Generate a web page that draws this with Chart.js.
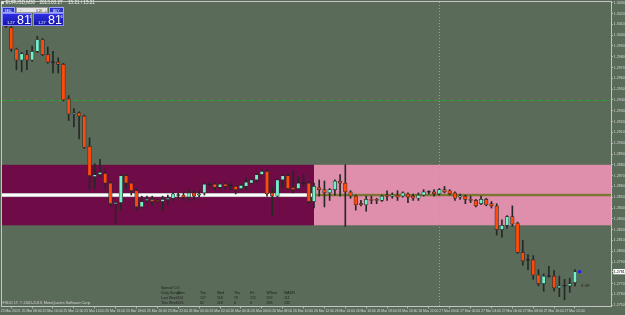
<!DOCTYPE html>
<html>
<head>
<meta charset="utf-8">
<script src="https://cdn.jsdelivr.net/npm/chart.js@4.4.1/dist/chart.umd.min.js"></script>
<style>
  html, body { margin: 0; padding: 0; background: #5a6b59; }
  #wrap { position: relative; width: 625px; height: 315px; overflow: hidden; font-family: "Liberation Sans", Arial, sans-serif; }
  #wrap canvas { position: absolute; left: 0; top: 0; }
  .t { position: absolute; white-space: nowrap; line-height: 1; }
  .hdr { color: #f2f2f2; font-size: 4.6px; top: 1.2px; }
  .btn { position: absolute; top: 7px; height: 6px; background: #2b36c9; color: #fff; font-size: 3.2px; line-height: 6px; text-align: center; box-sizing: border-box; border: 0.5px solid #9aa4ff; }
  .lot { position: absolute; top: 7px; left: 16px; width: 32px; height: 6px; background: #e4e4e4; color: #333; font-size: 3.2px; line-height: 6px; box-sizing: border-box; border: 0.5px solid #9a9a9a; }
  .quote { position: absolute; top: 13px; height: 12.5px; background: linear-gradient(#2e2fe0, #1414a8); box-sizing: border-box; border: 0.5px solid #8c8cff; color: #fff; }
  .quote .sm { position: absolute; left: 4px; top: 7px; font-size: 4px; line-height: 1; }
  .quote .big { position: absolute; left: 14px; top: 0px; font-size: 12.5px; line-height: 1; font-family: "Liberation Sans Narrow", "Arial Narrow", "Liberation Sans", sans-serif; }
  .quote .sup { position: absolute; left: 26.5px; top: 1px; font-size: 4px; line-height: 1; }
  .info { color: #1d1d1d; font-size: 3.6px; }
  .copy { color: #d6d6d6; font-size: 3.8px; }
</style>
</head>
<body>
<div id="wrap">
  <canvas id="chart" width="625" height="315"></canvas>

  <div class="t hdr" style="left:1.5px;">&#9632; EURUSD,M30</div>
  <div class="t hdr" style="left:39.5px;">2013.03.27</div>
  <div class="t hdr" style="left:68px;">15:21 / 15:21</div>

  <div class="btn" style="left:2px;width:13px;">SELL</div>
  <div class="lot"><span style="position:absolute;left:3px;">&minus;</span><span style="position:absolute;left:19px;">0.20</span><span style="position:absolute;left:28px;">+</span></div>
  <div class="btn" style="left:49px;width:14.5px;">BUY</div>
  <div class="quote" style="left:2px;width:29.5px;"><span class="sm">1.27</span><span class="big">81</span><span class="sup">1</span></div>
  <div class="quote" style="left:33px;width:30.5px;"><span class="sm">1.27</span><span class="big">81</span><span class="sup">6</span></div>

  <div class="t info" style="left:161px;top:286.5px;">Spread: 0.5</div>
  <div id="rangeTable"></div>

  <div class="t copy" style="left:2.5px;top:301.5px;">FXDD LT. &copy; 2001-2013, MetaQuotes Software Corp.</div>
  <div class="t" style="left:581px;top:283.5px;font-size:4.4px;color:#2a2a2a;">8:39</div>
</div>

<script>
// ---- candles (EURUSD M30), oldest first ----
const candleOpen = [
  1.3009, 1.3007, 1.2987, 1.2977, 1.2982, 1.2977, 1.2985, 1.2996, 1.2982, 1.2975,
  1.2975, 1.2973, 1.2941, 1.2927, 1.2928, 1.2925, 1.2897, 1.2869, 1.2871, 1.2872,
  1.2863, 1.2844, 1.2845, 1.2870, 1.2863, 1.2856, 1.2841, 1.2847, 1.2848, 1.2847,
  1.2846, 1.2848, 1.2849, 1.2852, 1.2852, 1.2850, 1.2854, 1.2852, 1.2854, 1.2862,
  1.2862, 1.2859, 1.2862, 1.2861, 1.2860, 1.2858, 1.2860, 1.2863, 1.2866, 1.2871,
  1.2874, 1.2854, 1.2851, 1.2866, 1.2870, 1.2859, 1.2858, 1.2863, 1.2863, 1.2846,
  1.2859, 1.2857, 1.2854, 1.2857, 1.2865, 1.2863, 1.2855, 1.2851, 1.2844, 1.2843,
  1.2848, 1.2848, 1.2847, 1.2852, 1.2851, 1.2852, 1.2851, 1.2853, 1.2851, 1.2849,
  1.2852, 1.2855, 1.2855, 1.2853, 1.2857, 1.2856, 1.2854, 1.2850, 1.2851, 1.2848,
  1.2847, 1.2844, 1.2848, 1.2844, 1.2842, 1.2820, 1.2824, 1.2832, 1.2826, 1.2799,
  1.2792, 1.2792, 1.2778, 1.2770, 1.2777, 1.2777, 1.2766, 1.2768, 1.2768, 1.2771
]
const candleHigh = [
  1.3010, 1.3008, 1.2988, 1.2984, 1.2986, 1.2990, 1.2999, 1.2997, 1.2989, 1.2985,
  1.2979, 1.2974, 1.2944, 1.2932, 1.2929, 1.2926, 1.2905, 1.2881, 1.2885, 1.2876,
  1.2864, 1.2846, 1.2871, 1.2871, 1.2864, 1.2858, 1.2851, 1.2851, 1.2851, 1.2848,
  1.2851, 1.2852, 1.2855, 1.2854, 1.2854, 1.2857, 1.2856, 1.2856, 1.2863, 1.2864,
  1.2864, 1.2863, 1.2864, 1.2863, 1.2861, 1.2862, 1.2868, 1.2867, 1.2872, 1.2875,
  1.2875, 1.2860, 1.2867, 1.2871, 1.2871, 1.2874, 1.2869, 1.2871, 1.2864, 1.2863,
  1.2866, 1.2865, 1.2858, 1.2866, 1.2871, 1.2880, 1.2856, 1.2852, 1.2847, 1.2851,
  1.2851, 1.2849, 1.2852, 1.2856, 1.2854, 1.2856, 1.2855, 1.2854, 1.2853, 1.2854,
  1.2857, 1.2856, 1.2857, 1.2858, 1.2860, 1.2857, 1.2855, 1.2853, 1.2852, 1.2851,
  1.2848, 1.2851, 1.2849, 1.2846, 1.2844, 1.2829, 1.2833, 1.2842, 1.2827, 1.2810,
  1.2797, 1.2796, 1.2783, 1.2779, 1.2786, 1.2782, 1.2777, 1.2774, 1.2775, 1.2783
]
const candleLow = [
  1.3007, 1.2985, 1.2968, 1.2966, 1.2968, 1.2976, 1.2984, 1.2981, 1.2974, 1.2965,
  1.2965, 1.2939, 1.2921, 1.2915, 1.2904, 1.2895, 1.2857, 1.2858, 1.2869, 1.2858,
  1.2842, 1.2826, 1.2838, 1.2858, 1.2852, 1.2838, 1.2840, 1.2845, 1.2843, 1.2845,
  1.2838, 1.2843, 1.2847, 1.2849, 1.2847, 1.2847, 1.2847, 1.2850, 1.2852, 1.2859,
  1.2857, 1.2858, 1.2858, 1.2857, 1.2853, 1.2857, 1.2857, 1.2862, 1.2864, 1.2869,
  1.2851, 1.2833, 1.2850, 1.2859, 1.2857, 1.2854, 1.2857, 1.2860, 1.2844, 1.2840,
  1.2851, 1.2841, 1.2847, 1.2852, 1.2851, 1.2823, 1.2849, 1.2838, 1.2842, 1.2837,
  1.2844, 1.2844, 1.2846, 1.2847, 1.2849, 1.2847, 1.2850, 1.2845, 1.2847, 1.2847,
  1.2851, 1.2853, 1.2851, 1.2852, 1.2854, 1.2852, 1.2847, 1.2848, 1.2844, 1.2845,
  1.2841, 1.2843, 1.2842, 1.2840, 1.2815, 1.2813, 1.2821, 1.2823, 1.2798, 1.2787,
  1.2783, 1.2774, 1.2768, 1.2763, 1.2776, 1.2763, 1.2758, 1.2755, 1.2762, 1.2768
]
const candleClose = [
  1.3008, 1.2987, 1.2977, 1.2983, 1.2977, 1.2985, 1.2996, 1.2982, 1.2975, 1.2975,
  1.2973, 1.2940, 1.2927, 1.2928, 1.2925, 1.2896, 1.2870, 1.2871, 1.2873, 1.2863,
  1.2844, 1.2845, 1.2870, 1.2863, 1.2856, 1.2841, 1.2846, 1.2848, 1.2846, 1.2846,
  1.2848, 1.2849, 1.2853, 1.2852, 1.2850, 1.2854, 1.2851, 1.2853, 1.2862, 1.2862,
  1.2859, 1.2862, 1.2860, 1.2861, 1.2857, 1.2861, 1.2864, 1.2866, 1.2871, 1.2874,
  1.2853, 1.2851, 1.2866, 1.2870, 1.2858, 1.2857, 1.2863, 1.2863, 1.2846, 1.2860,
  1.2857, 1.2854, 1.2857, 1.2865, 1.2863, 1.2855, 1.2851, 1.2843, 1.2843, 1.2848,
  1.2847, 1.2847, 1.2851, 1.2851, 1.2852, 1.2850, 1.2854, 1.2850, 1.2849, 1.2852,
  1.2855, 1.2855, 1.2853, 1.2857, 1.2855, 1.2853, 1.2849, 1.2851, 1.2848, 1.2847,
  1.2842, 1.2848, 1.2843, 1.2842, 1.2820, 1.2824, 1.2832, 1.2825, 1.2799, 1.2791,
  1.2792, 1.2778, 1.2770, 1.2777, 1.2777, 1.2766, 1.2768, 1.2768, 1.2770, 1.2781
]

// time axis labels, one every 4 bars (2 hours)
const timeLabels = [
  '25 Mar 2013', '25 Mar 08:00', '25 Mar 10:00', '25 Mar 12:00', '25 Mar 14:00', '25 Mar 16:00', '25 Mar 18:00',
  '25 Mar 20:00', '25 Mar 22:00', '26 Mar 00:00', '26 Mar 02:00', '26 Mar 04:00', '26 Mar 06:00', '26 Mar 08:00',
  '26 Mar 10:00', '26 Mar 12:00', '26 Mar 14:00', '26 Mar 16:00', '26 Mar 18:00', '26 Mar 20:00', '26 Mar 22:00',
  '27 Mar 00:00', '27 Mar 02:00', '27 Mar 04:00', '27 Mar 06:00', '27 Mar 08:00', '27 Mar 10:00', '27 Mar 12:00'
]

// price axis labels
const priceTicks = [
  1.3030, 1.3020, 1.3010, 1.3000, 1.2990, 1.2980, 1.2970, 1.2960, 1.2950, 1.2940,
  1.2930, 1.2920, 1.2910, 1.2900, 1.2890, 1.2880, 1.2870, 1.2860, 1.2850, 1.2840,
  1.2830, 1.2820, 1.2810, 1.2800, 1.2790, 1.2770, 1.2760, 1.2750
]
const bidPrice = 1.2781

// chart objects
const zoneHigh = 1.2880
const zoneLow = 1.2824
const zoneSplitBar = 59
const pivotLevel = 1.2852
const dashedLevel = 1.2940
const separatorBar = 83

// daily range panel
const rangeHeader = ['Daily Range', 'Mon', 'Tue', 'Wed', 'Thu', 'Fri', 'WSum', 'WADR']
const rangeLastWeek = ['Last Week', '114', '127', '118', '79', '121', '559', '111']
const rangeThisWeek = ['This Week', '216', '62', '118', '0', '0', '396', '132']

const bgColor = '#5a6b59'
const fgColor = '#d8d8d8'
const bullColor = '#76efc9'
const bearColor = '#ff4a0a'
const wickColor = '#262826'
const fontFamily = '"Liberation Sans", Arial, sans-serif'

// range table as text
const tableCols = [161, 177.5, 200, 217, 234, 250, 266.5, 284]
const tableRows = [rangeHeader, rangeLastWeek, rangeThisWeek]
const tableBox = document.getElementById('rangeTable')
tableRows.forEach((row, r) => {
  row.forEach((txt, c) => {
    const d = document.createElement('div')
    d.className = 't info'
    d.style.left = tableCols[c] + 'px'
    d.style.top = (291.5 + r * 5) + 'px'
    d.textContent = txt
    tableBox.appendChild(d)
  })
})

const barIdx = candleOpen.map((_, i) => i)
const isDoji = i => candleOpen[i] === candleClose[i]

const bodyData = barIdx.filter(i => !isDoji(i)).map(i => ({ x: i, y: [candleOpen[i], candleClose[i]] }))
const bodyColors = bodyData.map(d => d.y[1] > d.y[0] ? bullColor : bearColor)
const wickData = barIdx.map(i => ({ x: i, y: [candleLow[i], candleHigh[i]] }))
const dojiData = barIdx.filter(isDoji).map(i => ({ x: i, y: candleOpen[i] }))

// plugin: background, rectangles, lines, frame
const chartObjects = {
  id: 'chartObjects',
  beforeDraw(chart) {
    const ctx = chart.ctx
    ctx.save()
    ctx.fillStyle = bgColor
    ctx.fillRect(0, 0, chart.width, chart.height)
    ctx.restore()
  },
  beforeDatasetsDraw(chart) {
    const { ctx, chartArea: a, scales: { x, y } } = chart
    const yTop = y.getPixelForValue(zoneHigh)
    const yBot = y.getPixelForValue(zoneLow)
    const xs = x.getPixelForValue(zoneSplitBar)
    ctx.save()
    ctx.beginPath()
    ctx.rect(a.left, a.top, a.right - a.left, a.bottom - a.top)
    ctx.clip()

    ctx.fillStyle = '#6f0b47'
    ctx.fillRect(a.left, yTop, xs - a.left, yBot - yTop)
    ctx.fillStyle = '#df8fac'
    ctx.fillRect(xs, yTop, a.right - xs, yBot - yTop)

    const yl = y.getPixelForValue(pivotLevel)
    ctx.fillStyle = '#bdbdbd'
    ctx.fillRect(a.left, yl - 2, xs - a.left, 4)
    ctx.fillStyle = '#ffffff'
    ctx.fillRect(a.left, yl - 1.2, xs - a.left, 2.4)
    ctx.fillStyle = '#7b7633'
    ctx.fillRect(xs, yl - 1.2, a.right - xs, 2.4)

    const yd = y.getPixelForValue(dashedLevel)
    ctx.strokeStyle = '#35a03a'
    ctx.lineWidth = 1
    ctx.setLineDash([5, 3])
    ctx.beginPath()
    ctx.moveTo(a.left, Math.round(yd) + 0.5)
    ctx.lineTo(a.right, Math.round(yd) + 0.5)
    ctx.stroke()

    const xv = x.getPixelForValue(separatorBar)
    ctx.strokeStyle = 'rgba(150,170,150,0.9)'
    ctx.setLineDash([1, 2])
    ctx.beginPath()
    ctx.moveTo(Math.round(xv) + 0.5, a.top)
    ctx.lineTo(Math.round(xv) + 0.5, a.bottom)
    ctx.stroke()
    ctx.restore()
  },
  afterDatasetsDraw(chart) {
    const { ctx, chartArea: a } = chart
    ctx.save()
    ctx.strokeStyle = '#c4c4c4'
    ctx.lineWidth = 1
    ctx.strokeRect(a.left - 0.5, a.top - 0.5, a.right - a.left + 1, a.bottom - a.top + 1)
    ctx.restore()
  }
}

const ctx = document.getElementById('chart').getContext('2d')

new Chart(ctx, {
  type: 'bar',
  data: {
    datasets: [
      {
        type: 'scatter',
        data: [{ x: 109.9, y: bidPrice }],
        pointStyle: 'rect',
        pointRadius: 1.4,
        backgroundColor: '#1b1bff',
        borderColor: '#1b1bff',
        order: 0
      },
      {
        type: 'scatter',
        data: dojiData,
        pointStyle: 'line',
        pointRadius: 2,
        borderColor: '#1e1e1e',
        borderWidth: 1,
        order: 1
      },
      {
        data: bodyData,
        backgroundColor: bodyColors,
        borderColor: '#2c2c2c',
        borderWidth: 0.7,
        borderSkipped: false,
        barThickness: 3.6,
        grouped: false,
        order: 2
      },
      {
        data: wickData,
        backgroundColor: wickColor,
        borderWidth: 0,
        barThickness: 1,
        grouped: false,
        order: 3
      }
    ]
  },
  options: {
    responsive: false,
    animation: false,
    events: [],
    layout: { autoPadding: false, padding: { left: 2, top: 2, right: 0, bottom: 0 } },
    plugins: {
      legend: { display: false },
      tooltip: { enabled: false },
      title: { display: false }
    },
    scales: {
      x: {
        type: 'linear',
        min: -0.77,
        max: 115.9,
        offset: false,
        afterFit: s => { s.height = 9; s.paddingLeft = 0; s.paddingRight = 0 },
        afterBuildTicks: s => { s.ticks = timeLabels.map((_, k) => ({ value: 4 * k - 1 })) },
        ticks: {
          callback: (v, i) => timeLabels[i],
          align: 'start',
          maxRotation: 0,
          minRotation: 0,
          autoSkip: false,
          padding: 0.5,
          color: fgColor,
          font: { family: fontFamily, size: 3.4 }
        },
        grid: { drawOnChartArea: false, tickLength: 2.5, color: '#c4c4c4', lineWidth: 0.8 },
        border: { display: false }
      },
      y: {
        position: 'right',
        min: 1.27493,
        max: 1.30307,
        afterFit: s => { s.width = 14; s.paddingTop = 0; s.paddingBottom = 0 },
        afterBuildTicks: s => { s.ticks = [...priceTicks, bidPrice].map(v => ({ value: v })) },
        ticks: {
          callback: v => v.toFixed(4),
          autoSkip: false,
          padding: 0.8,
          color: c => c.tick && c.tick.value === bidPrice ? '#000000' : fgColor,
          showLabelBackdrop: c => !!(c.tick && c.tick.value === bidPrice),
          backdropColor: '#ffffff',
          backdropPadding: { top: 0.6, bottom: 0.4, left: 0.6, right: 1.2 },
          font: { family: fontFamily, size: 3.6 }
        },
        grid: { drawOnChartArea: false, tickLength: 2, color: '#c4c4c4', lineWidth: 0.8 },
        border: { display: false }
      }
    }
  },
  plugins: [chartObjects]
})
</script>
</body>
</html>
